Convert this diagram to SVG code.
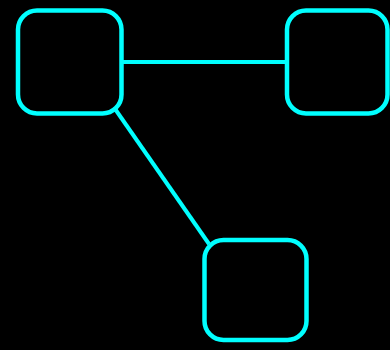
<svg xmlns="http://www.w3.org/2000/svg" width="390" height="350" viewBox="0 0 390 350">
<style>
.node{fill:#000;stroke:#00ffff;stroke-width:4.5}
.edge{stroke:#00ffff;stroke-width:4;fill:none}
</style>
<rect width="390" height="350" fill="#000"/>
<g id="connectors">
<line class="edge" x1="121.5" y1="62" x2="287" y2="62"/>
<line class="edge" x1="113" y1="106" x2="209" y2="244"/>
</g>
<g id="node1"><rect class="node" x="18" y="10.5" width="103.5" height="103" rx="19"/></g>
<g id="node2"><rect class="node" x="287" y="10.5" width="100.5" height="103" rx="19"/></g>
<g id="node3"><rect class="node" x="204.5" y="240" width="102" height="100" rx="19"/></g>
</svg>
